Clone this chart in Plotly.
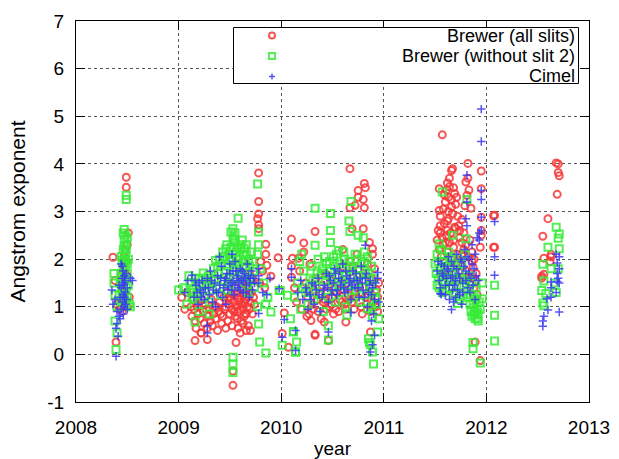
import plotly.graph_objects as go

# ---------------- data (decimal year, Angstrom exponent) ----------------
brewer_all = [
    # 2008
    (2008.49, 3.72), (2008.49, 3.51), (2008.36, 2.04), (2008.47, 1.95), (2008.46, 1.85),
    (2008.50, 2.30), (2008.51, 2.55), (2008.48, 1.70), (2008.44, 1.65), (2008.38, 1.55),
    (2008.40, 1.05), (2008.42, 0.95), (2008.39, 0.26), (2008.52, 1.20), (2008.45, 1.30),
    (2008.48, 2.20), (2008.47, 2.05), (2008.49, 1.95), (2008.46, 1.15), (2008.50, 1.00),
    (2008.45, 0.90),
    # 2009
    (2009.12, 1.00), (2009.13, 0.80), (2009.15, 0.95), (2009.16, 0.70), (2009.17, 0.55),
    (2009.19, 0.85), (2009.20, 1.10), (2009.21, 0.75), (2009.22, 0.45), (2009.24, 0.90),
    (2009.25, 0.65), (2009.26, 1.05), (2009.28, 0.55), (2009.29, 0.80), (2009.30, 0.95),
    (2009.31, 0.70), (2009.33, 0.60), (2009.34, 0.85), (2009.35, 1.00), (2009.36, 0.75),
    (2009.38, 0.50), (2009.39, 0.90), (2009.40, 1.10), (2009.42, 0.65), (2009.43, 0.80),
    (2009.44, 1.20), (2009.45, 0.95), (2009.46, 0.55), (2009.47, 1.30), (2009.48, 0.70),
    (2009.49, 1.05), (2009.50, 0.85), (2009.51, 1.15), (2009.52, 0.60), (2009.53, 1.25),
    (2009.54, 0.90), (2009.55, 1.40), (2009.56, 1.00), (2009.57, 0.75), (2009.58, 1.20),
    (2009.59, 1.10), (2009.60, 0.95), (2009.61, 1.35), (2009.62, 1.05), (2009.63, 1.25),
    (2009.64, 0.80), (2009.65, 1.15), (2009.66, 1.45), (2009.67, 1.00), (2009.68, 0.60),
    (2009.69, 1.30), (2009.70, 0.50), (2009.72, 1.60), (2009.73, 1.20),
    (2009.50, 1.20), (2009.52, 0.95), (2009.54, 1.10), (2009.55, 0.80), (2009.57, 1.30),
    (2009.58, 0.90), (2009.60, 1.15), (2009.61, 0.70), (2009.62, 1.40), (2009.63, 0.95),
    (2009.64, 1.10), (2009.65, 1.30), (2009.66, 0.85), (2009.67, 1.20), (2009.68, 1.40),
    (2009.69, 0.95), (2009.70, 1.10), (2009.71, 1.30), (2009.72, 0.85), (2009.74, 1.05),
    (2009.58, 0.55), (2009.60, 0.45), (2009.63, 0.65), (2009.66, 0.50), (2009.59, 1.50),
    (2009.64, 1.55), (2009.69, 1.70), (2009.14, 1.15), (2009.18, 1.00), (2009.23, 1.15),
    (2009.27, 0.95), (2009.32, 1.15), (2009.37, 1.00), (2009.41, 0.85), (2009.46, 1.00),
    (2009.48, 1.20),
    (2009.16, 0.29), (2009.28, 0.31), (2009.22, 0.45), (2009.56, 0.25), (2009.53, -0.65),
    (2009.53, -0.35), (2009.65, 0.86), (2009.78, 3.81), (2009.78, 3.21), (2009.78, 2.95),
    (2009.77, 2.85), (2009.78, 2.72), (2009.78, 2.64), (2009.85, 2.31), (2009.97, 2.03),
    (2009.85, 2.10), (2009.86, 1.87), (2009.90, 1.64), (2009.80, 1.95), (2009.82, 1.75),
    (2009.79, 1.50), (2009.84, 1.40), (2009.03, 1.20), (2009.06, 0.95), (2009.08, 1.30),
    # 2010
    (2010.10, 1.85), (2010.10, 1.62), (2010.11, 2.02), (2010.17, 2.02), (2010.22, 2.34),
    (2010.22, 2.15), (2010.10, 2.42), (2010.33, 2.58), (2010.69, 2.64), (2010.80, 2.64),
    (2010.89, 2.22), (2010.89, 2.10), (2010.67, 3.90), (2010.81, 3.59), (2010.82, 3.50),
    (2010.75, 3.44), (2010.75, 3.30), (2010.80, 3.25), (2010.67, 3.08), (2010.72, 3.13),
    (2010.81, 3.08), (2010.63, 0.68), (2010.46, 0.29), (2010.33, 0.42), (2010.29, 0.71),
    (2010.27, 0.85), (2010.42, 0.68), (2010.87, 0.47), (2010.94, 1.20), (2010.94, 0.90),
    (2010.01, 0.44), (2010.03, 0.87), (2010.07, 0.15), (2010.33, 0.40),
    (2010.13, 1.40), (2010.15, 1.10), (2010.18, 1.75), (2010.20, 0.95), (2010.24, 1.50),
    (2010.26, 1.20), (2010.28, 1.90), (2010.30, 1.05), (2010.32, 1.35), (2010.34, 1.60),
    (2010.36, 0.90), (2010.38, 1.25), (2010.40, 1.45), (2010.41, 1.10), (2010.43, 1.70),
    (2010.45, 1.30), (2010.47, 1.00), (2010.48, 1.55), (2010.50, 1.20), (2010.52, 1.40),
    (2010.53, 0.95), (2010.55, 1.65), (2010.57, 1.15), (2010.58, 1.35), (2010.60, 1.85),
    (2010.62, 1.05), (2010.64, 1.50), (2010.65, 1.25), (2010.67, 1.95), (2010.69, 1.10),
    (2010.70, 1.60), (2010.72, 1.30), (2010.74, 2.10), (2010.76, 1.45), (2010.78, 1.00),
    (2010.80, 1.70), (2010.82, 1.20), (2010.84, 1.90), (2010.86, 1.40), (2010.88, 1.60),
    (2010.90, 1.10), (2010.91, 1.80), (2010.93, 1.35), (2010.95, 1.50),
    (2010.42, 1.15), (2010.44, 0.95), (2010.49, 1.05), (2010.51, 0.85), (2010.54, 1.30),
    (2010.56, 0.90), (2010.59, 1.10), (2010.61, 1.35), (2010.63, 0.95), (2010.66, 1.15),
    (2010.71, 0.95), (2010.73, 1.20), (2010.77, 1.30), (2010.79, 0.85), (2010.83, 1.05),
    (2010.85, 1.25), (2010.87, 0.90), (2010.92, 1.00), (2010.25, 0.80), (2010.31, 0.95),
    (2010.35, 1.15), (2010.39, 0.75), (2010.60, 2.20), (2010.86, 2.35), (2010.70, 1.85),
    # 2011-2012
    (2011.57, 4.61), (2011.67, 3.90), (2011.66, 3.86), (2011.82, 4.01), (2011.95, 3.85),
    (2011.80, 3.62), (2011.54, 3.48), (2011.62, 3.60), (2011.61, 3.45), (2011.63, 3.30),
    (2011.68, 3.50), (2011.69, 3.38), (2011.64, 3.52), (2011.66, 3.25), (2011.95, 3.48),
    (2011.81, 3.34), (2011.54, 3.02), (2011.58, 3.05), (2011.63, 3.00), (2011.85, 3.07),
    (2011.79, 3.12), (2012.08, 2.92), (2011.95, 2.88), (2011.62, 2.80), (2011.62, 2.60),
    (2011.55, 2.70), (2011.55, 2.55), (2011.69, 2.67), (2011.73, 2.70), (2011.76, 2.83),
    (2011.95, 2.60), (2011.95, 2.50), (2012.08, 2.25), (2011.94, 2.25), (2011.87, 1.83),
    (2011.87, 1.62), (2011.89, 0.26), (2011.94, -0.13), (2011.59, 3.35), (2011.70, 3.15),
    (2011.60, 3.20), (2011.83, 3.45), (2011.82, 3.70),
    (2011.52, 2.40), (2011.54, 2.20), (2011.56, 2.05), (2011.58, 2.30), (2011.60, 1.95),
    (2011.62, 2.15), (2011.64, 2.35), (2011.66, 2.00), (2011.68, 2.25), (2011.70, 1.90),
    (2011.72, 2.10), (2011.74, 2.45), (2011.76, 1.85), (2011.78, 2.20), (2011.80, 1.75),
    (2011.82, 2.05), (2011.84, 1.60), (2011.86, 1.95), (2011.88, 1.40), (2011.90, 1.70),
    (2011.91, 1.25), (2011.58, 1.70), (2011.65, 1.80), (2011.72, 1.60),
    (2011.53, 2.60), (2011.55, 2.90), (2011.57, 2.45), (2011.59, 2.75), (2011.61, 2.50),
    (2011.63, 2.85), (2011.65, 2.55), (2011.67, 2.95), (2011.68, 2.40), (2011.70, 2.65),
    (2011.72, 2.90), (2011.74, 2.60), (2011.76, 2.35), (2011.78, 2.55), (2011.80, 2.30),
    (2011.84, 2.40), (2011.86, 2.15), (2011.88, 2.00), (2011.90, 1.55), (2011.66, 3.10),
    (2011.71, 3.30), (2011.64, 3.70), (2011.60, 2.35), (2011.76, 2.10),
    (2012.07, 2.91), (2012.07, 2.25),
    (2012.68, 4.02), (2012.70, 4.00), (2012.70, 3.82), (2012.71, 3.75), (2012.69, 3.36),
    (2012.60, 2.85), (2012.55, 2.48), (2012.56, 2.02), (2012.63, 2.10), (2012.63, 2.05),
    (2012.62, 1.95), (2012.54, 1.64), (2012.54, 1.60), (2012.56, 1.68),
]

brewer_no_slit2 = [
    # 2008
    (2008.49, 3.34), (2008.49, 3.25), (2008.47, 2.62), (2008.48, 2.50), (2008.47, 2.40),
    (2008.49, 2.30), (2008.46, 2.20), (2008.48, 2.10), (2008.45, 1.98), (2008.50, 1.90),
    (2008.46, 1.80), (2008.44, 1.70), (2008.48, 1.60), (2008.43, 1.50), (2008.51, 1.45),
    (2008.45, 1.35), (2008.42, 1.25), (2008.47, 1.15), (2008.52, 1.05), (2008.40, 1.00),
    (2008.37, 1.70), (2008.37, 1.50), (2008.38, 1.25), (2008.38, 0.70), (2008.40, 0.45),
    (2008.39, 0.10), (2008.51, 2.00), (2008.53, 1.00), (2008.44, 2.05), (2008.50, 2.45),
    (2008.46, 2.55), (2008.47, 2.28), (2008.48, 2.00), (2008.46, 1.62), (2008.49, 1.40),
    (2008.47, 1.25), (2008.49, 1.10), (2008.45, 1.45), (2008.48, 1.85), (2008.50, 1.70),
    (2008.50, 1.20), (2008.44, 1.10), (2008.47, 1.95), (2008.49, 2.20),
    # 2009
    (2009.12, 1.30), (2009.14, 1.39), (2009.15, 1.15), (2009.17, 1.50), (2009.18, 1.25),
    (2009.20, 1.60), (2009.22, 1.35), (2009.24, 1.71), (2009.25, 1.20), (2009.27, 1.45),
    (2009.29, 1.65), (2009.30, 1.10), (2009.32, 1.55), (2009.34, 1.80), (2009.36, 1.97),
    (2009.37, 1.40), (2009.39, 1.70), (2009.41, 1.25), (2009.42, 1.90), (2009.44, 1.55),
    (2009.45, 2.05), (2009.46, 2.22), (2009.47, 1.35), (2009.48, 1.85), (2009.49, 2.10),
    (2009.50, 1.60), (2009.51, 2.57), (2009.52, 1.95), (2009.53, 2.64), (2009.53, 2.45),
    (2009.54, 1.75), (2009.55, 2.55), (2009.55, 2.35), (2009.56, 2.15), (2009.57, 1.45),
    (2009.58, 2.86), (2009.58, 2.00), (2009.59, 1.80), (2009.60, 2.30), (2009.61, 2.22),
    (2009.62, 1.65), (2009.63, 1.95), (2009.64, 2.22), (2009.65, 1.50), (2009.66, 2.10),
    (2009.67, 1.70), (2009.68, 1.30), (2009.69, 1.85), (2009.70, 1.55), (2009.72, 1.95),
    (2009.74, 1.40),
    (2009.40, 2.00), (2009.43, 2.15), (2009.45, 1.75), (2009.47, 2.30), (2009.50, 2.00),
    (2009.51, 2.25), (2009.53, 2.10), (2009.54, 2.40), (2009.56, 1.90), (2009.57, 2.25),
    (2009.59, 2.05), (2009.60, 1.70), (2009.62, 2.40), (2009.63, 2.10), (2009.65, 1.85),
    (2009.66, 2.30), (2009.68, 2.00), (2009.69, 1.60), (2009.71, 2.15), (2009.73, 1.75),
    (2009.35, 1.60), (2009.38, 1.85), (2009.33, 1.35), (2009.28, 1.50), (2009.23, 1.45),
    (2009.19, 1.30), (2009.16, 1.60), (2009.13, 1.20), (2009.11, 1.50), (2009.26, 1.60),
    (2009.48, 1.50), (2009.55, 1.60),
    (2009.16, 0.68), (2009.78, 0.64), (2009.79, 0.26), (2009.85, 0.03), (2009.53, -0.06),
    (2009.53, -0.20), (2009.53, -0.38), (2009.90, 0.89), (2009.85, 1.05), (2009.77, 1.00),
    (2009.98, 1.34), (2009.77, 3.58), (2009.78, 2.57), (2009.78, 2.30), (2009.77, 2.10),
    (2009.80, 1.80), (2009.83, 1.50), (2009.87, 1.20), (2009.99, 1.34), (2010.06, 1.24),
    (2010.09, 0.75), (2010.12, 0.47), (2010.01, 0.19), (2010.14, 0.05), (2009.05, 1.40),
    (2009.08, 1.05), (2009.10, 1.65), (2009.20, 0.90), (2009.30, 0.85), (2009.00, 1.35),
    # 2010
    (2010.33, 3.07), (2010.48, 2.96), (2010.68, 3.21), (2010.66, 2.80), (2010.48, 2.60),
    (2010.67, 2.58), (2010.75, 2.50), (2010.80, 2.45), (2010.33, 2.29), (2010.48, 2.35),
    (2010.56, 2.18), (2010.81, 2.15), (2010.15, 0.26), (2010.14, 0.05), (2010.12, 0.48),
    (2010.46, 0.60), (2010.46, 0.30), (2010.64, 0.82), (2010.85, 0.33), (2010.86, 0.25),
    (2010.87, 0.20), (2010.89, 0.05), (2010.90, -0.20), (2010.94, 0.47), (2010.84, 0.96),
    (2010.88, 1.00), (2010.18, 1.95), (2010.20, 2.10),
    (2010.13, 1.20), (2010.16, 1.50), (2010.19, 0.95), (2010.22, 1.75), (2010.24, 1.30),
    (2010.26, 1.05), (2010.28, 1.60), (2010.30, 1.85), (2010.32, 1.15), (2010.34, 1.45),
    (2010.36, 2.00), (2010.37, 1.25), (2010.39, 1.70), (2010.41, 0.90), (2010.43, 1.55),
    (2010.44, 1.90), (2010.46, 1.20), (2010.48, 1.75), (2010.50, 1.40), (2010.51, 2.05),
    (2010.53, 1.10), (2010.55, 1.65), (2010.57, 1.90), (2010.58, 1.30), (2010.60, 1.55),
    (2010.62, 2.00), (2010.63, 1.00), (2010.65, 1.45), (2010.67, 1.85), (2010.68, 1.20),
    (2010.70, 1.65), (2010.72, 2.10), (2010.73, 1.35), (2010.75, 1.80), (2010.77, 1.10),
    (2010.79, 1.55), (2010.81, 1.95), (2010.83, 1.25), (2010.85, 1.70), (2010.87, 1.45),
    (2010.89, 0.80), (2010.91, 1.30), (2010.93, 1.05), (2010.95, 0.75),
    (2010.40, 1.80), (2010.42, 2.05), (2010.45, 1.65), (2010.47, 1.95), (2010.49, 1.60),
    (2010.52, 1.85), (2010.54, 2.10), (2010.56, 1.45), (2010.59, 1.80), (2010.61, 2.15),
    (2010.63, 1.65), (2010.66, 1.95), (2010.69, 1.75), (2010.71, 1.45), (2010.74, 2.00),
    (2010.76, 1.65), (2010.78, 1.90), (2010.80, 1.40), (2010.82, 1.75), (2010.84, 2.05),
    (2010.86, 1.55), (2010.88, 1.85), (2010.90, 1.60), (2010.92, 1.20), (2010.27, 1.35),
    (2010.31, 1.55), (2010.35, 1.75), (2010.21, 1.40),
    # 2011-2012
    (2011.57, 3.41), (2011.81, 3.25), (2011.80, 2.43), (2011.54, 2.32), (2011.67, 2.50),
    (2011.72, 1.07), (2011.88, 0.98), (2011.88, 0.85), (2011.89, 0.75), (2011.92, 0.70),
    (2011.96, 1.17), (2011.96, 1.50), (2011.87, 0.25), (2011.87, 0.12), (2011.94, -0.18),
    (2012.08, 1.45), (2012.08, 0.82), (2012.08, 0.28),
    (2011.50, 1.90), (2011.52, 2.10), (2011.53, 1.60), (2011.55, 1.80), (2011.56, 2.20),
    (2011.58, 1.50), (2011.60, 1.95), (2011.61, 1.70), (2011.63, 2.15), (2011.64, 1.40),
    (2011.66, 1.85), (2011.68, 1.25), (2011.69, 2.00), (2011.71, 1.55), (2011.73, 1.75),
    (2011.74, 1.15), (2011.76, 1.90), (2011.78, 1.45), (2011.79, 2.10), (2011.81, 1.35),
    (2011.83, 1.65), (2011.84, 1.05), (2011.86, 1.50), (2011.88, 1.20), (2011.90, 1.40),
    (2011.91, 0.95), (2011.93, 1.10), (2011.52, 1.45), (2011.57, 1.30), (2011.85, 0.90),
    (2011.51, 1.70), (2011.53, 1.95), (2011.54, 1.40), (2011.56, 1.65), (2011.57, 1.95),
    (2011.59, 1.75), (2011.60, 1.35), (2011.62, 1.85), (2011.63, 1.55), (2011.65, 2.05),
    (2011.66, 1.60), (2011.67, 1.40), (2011.69, 1.70), (2011.70, 1.30), (2011.72, 1.90),
    (2011.75, 1.60), (2011.77, 1.25), (2011.80, 1.55), (2011.82, 1.20), (2011.85, 1.25),
    (2011.87, 1.05), (2011.89, 0.90), (2011.90, 1.15), (2011.92, 0.85), (2011.94, 0.95),
    (2011.91, 0.75), (2011.86, 0.80),
    (2012.68, 2.67), (2012.71, 2.53), (2012.70, 2.44), (2012.60, 2.25), (2012.71, 2.22),
    (2012.55, 1.89), (2012.63, 1.80), (2012.70, 1.80), (2012.56, 1.54), (2012.67, 1.50),
    (2012.54, 1.34), (2012.58, 1.28), (2012.68, 1.30), (2012.55, 1.08), (2012.56, 1.02),
]

cimel = [
    # 2008
    (2008.39, -0.04), (2008.41, 0.38), (2008.39, 0.55), (2008.43, 0.75), (2008.46, 0.85),
    (2008.50, 0.95), (2008.53, 1.60), (2008.55, 1.55), (2008.35, 1.35), (2008.36, 1.05),
    (2008.44, 1.90), (2008.46, 1.75), (2008.45, 1.60), (2008.47, 1.50), (2008.44, 1.40),
    (2008.48, 1.30), (2008.43, 1.20), (2008.45, 1.10), (2008.47, 1.00), (2008.42, 1.45),
    (2008.49, 1.70), (2008.40, 0.90), (2008.38, 1.15), (2008.46, 1.25),
    (2008.47, 1.20), (2008.48, 1.55), (2008.46, 1.45), (2008.48, 1.05), (2008.50, 1.40),
    (2008.45, 1.85), (2008.47, 1.65), (2008.49, 1.15), (2008.44, 0.95), (2008.42, 0.80),
    (2008.40, 0.65),
    # 2009
    (2009.13, 1.66), (2009.15, 1.20), (2009.17, 1.45), (2009.19, 1.05), (2009.21, 1.35),
    (2009.23, 1.55), (2009.25, 1.15), (2009.26, 1.40), (2009.28, 1.60), (2009.30, 1.25),
    (2009.31, 1.75), (2009.33, 1.10), (2009.35, 1.50), (2009.37, 1.30), (2009.38, 1.65),
    (2009.40, 1.45), (2009.42, 1.85), (2009.43, 1.20), (2009.45, 1.55), (2009.47, 1.70),
    (2009.48, 1.35), (2009.50, 1.90), (2009.51, 1.50), (2009.53, 1.75), (2009.54, 1.25),
    (2009.55, 1.95), (2009.57, 1.60), (2009.58, 1.40), (2009.60, 1.80), (2009.61, 1.55),
    (2009.63, 1.30), (2009.64, 1.70), (2009.66, 1.45), (2009.67, 1.90), (2009.69, 1.20),
    (2009.70, 1.60), (2009.72, 1.35), (2009.74, 1.50), (2009.28, 0.60), (2009.28, 0.45),
    (2009.44, 1.40), (2009.46, 1.60), (2009.49, 1.45), (2009.50, 1.70), (2009.52, 1.35),
    (2009.53, 1.55), (2009.55, 1.45), (2009.56, 1.75), (2009.58, 1.65), (2009.59, 1.50),
    (2009.60, 1.35), (2009.62, 1.75), (2009.63, 1.55), (2009.65, 1.60), (2009.66, 1.30),
    (2009.68, 1.65), (2009.69, 1.50), (2009.71, 1.75), (2009.73, 1.60), (2009.39, 1.30),
    (2009.41, 1.60), (2009.34, 1.35), (2009.32, 1.55), (2009.29, 1.40), (2009.24, 1.30),
    (2009.20, 1.50), (2009.18, 1.30), (2009.16, 1.55), (2009.22, 1.20),
    (2009.78, 1.80), (2009.78, 1.65), (2009.78, 1.50), (2009.78, 0.86), (2009.82, 1.30),
    (2009.86, 1.25), (2009.89, 1.60), (2009.98, 1.38), (2010.01, 0.36), (2010.03, 0.73),
    (2009.06, 1.30), (2009.09, 1.55), (2009.40, 2.05), (2009.52, 2.10), (2009.36, 1.00),
    (2009.46, 1.05),
    # 2010
    (2010.82, 2.29), (2010.14, 0.50), (2010.14, 0.08), (2010.10, 1.80), (2010.10, 1.62),
    (2010.46, 0.47), (2010.68, 0.88), (2010.87, 0.05), (2010.88, 0.70), (2010.94, 1.72),
    (2010.94, 1.60), (2010.95, 1.10), (2010.16, 1.30), (2010.19, 1.55), (2010.21, 1.15),
    (2010.24, 1.40), (2010.26, 0.95), (2010.28, 1.25), (2010.30, 1.50), (2010.32, 1.05),
    (2010.34, 1.35), (2010.36, 1.60), (2010.38, 0.90), (2010.40, 1.20), (2010.42, 1.45),
    (2010.44, 1.70), (2010.46, 1.10), (2010.48, 1.55), (2010.50, 1.35), (2010.52, 1.80),
    (2010.54, 1.25), (2010.56, 1.60), (2010.58, 1.45), (2010.60, 1.90), (2010.62, 1.30),
    (2010.64, 1.65), (2010.66, 1.50), (2010.68, 1.15), (2010.70, 1.75), (2010.72, 1.40),
    (2010.74, 1.55), (2010.76, 1.20), (2010.78, 1.85), (2010.80, 1.35), (2010.82, 1.60),
    (2010.84, 1.00), (2010.86, 1.45), (2010.88, 1.25), (2010.90, 0.85), (2010.92, 1.50),
    (2010.91, 0.40), (2010.89, 0.20),
    (2010.45, 1.40), (2010.47, 1.65), (2010.49, 1.25), (2010.51, 1.50), (2010.53, 1.70),
    (2010.55, 1.35), (2010.57, 1.75), (2010.59, 1.55), (2010.61, 1.40), (2010.63, 1.75),
    (2010.65, 1.35), (2010.67, 1.60), (2010.69, 1.45), (2010.71, 1.55), (2010.73, 1.70),
    (2010.75, 1.40), (2010.77, 1.60), (2010.79, 1.50), (2010.81, 1.20), (2010.83, 1.70),
    (2010.85, 1.30), (2010.87, 1.55), (2010.89, 1.40), (2010.91, 1.15), (2010.33, 1.45),
    (2010.37, 1.25), (2010.41, 1.35), (2010.29, 1.15), (2010.25, 1.30),
    # 2011-2012
    (2011.95, 5.15), (2011.95, 4.47), (2011.81, 3.76), (2011.95, 3.44), (2011.95, 3.25),
    (2011.81, 3.20), (2011.80, 2.85), (2011.81, 2.70), (2011.95, 2.88), (2011.95, 2.60),
    (2011.93, 2.55), (2011.93, 2.40), (2012.08, 2.79), (2012.08, 2.05), (2012.08, 1.66),
    (2011.66, 0.94), (2011.55, 1.28), (2011.56, 1.26),
    (2011.52, 1.75), (2011.54, 1.55), (2011.56, 1.90), (2011.58, 1.65), (2011.60, 1.45),
    (2011.62, 1.80), (2011.63, 2.05), (2011.65, 1.60), (2011.67, 1.35), (2011.68, 1.85),
    (2011.70, 1.55), (2011.71, 2.10), (2011.73, 1.70), (2011.74, 1.25), (2011.76, 1.95),
    (2011.77, 1.50), (2011.79, 2.20), (2011.80, 1.75), (2011.82, 1.40), (2011.83, 2.00),
    (2011.85, 1.60), (2011.86, 2.30), (2011.88, 1.80), (2011.89, 1.15), (2011.91, 2.45),
    (2011.92, 1.55), (2011.70, 1.20), (2011.64, 1.15), (2011.76, 1.05),
    (2011.57, 1.70), (2011.59, 1.85), (2011.61, 1.60), (2011.63, 1.75), (2011.64, 1.45),
    (2011.66, 1.95), (2011.67, 1.65), (2011.69, 1.45), (2011.71, 1.80), (2011.72, 1.35),
    (2011.74, 1.60), (2011.75, 2.00), (2011.77, 1.30), (2011.78, 1.85), (2011.80, 1.55),
    (2011.81, 2.05), (2011.83, 1.70), (2011.84, 1.30), (2011.86, 1.90), (2011.87, 1.45),
    (2011.89, 2.10), (2011.90, 1.65), (2011.55, 1.40), (2011.53, 1.95), (2011.60, 1.25),
    (2011.68, 1.10),
    (2012.69, 1.92), (2012.68, 2.10), (2012.71, 2.05), (2012.71, 1.80), (2012.69, 1.70),
    (2012.70, 1.60), (2012.69, 1.53), (2012.71, 1.50), (2012.63, 1.52), (2012.63, 1.40),
    (2012.59, 1.17), (2012.63, 1.20), (2012.68, 1.30), (2012.60, 0.93), (2012.71, 0.89),
    (2012.56, 0.80), (2012.55, 0.70), (2012.55, 0.59),
]

series_names = ["Brewer (all slits)", "Brewer (without slit 2)", "Cimel"]
x_ticks = [2008, 2009, 2010, 2011, 2012, 2013]
y_ticks = [-1, 0, 1, 2, 3, 4, 5, 6, 7]

RED = "rgba(245,55,55,0.85)"
GREEN = "rgba(55,235,55,0.85)"
BLUE = "rgba(55,55,245,0.85)"
FONT = "Liberation Sans, Arial, Helvetica, sans-serif"

fig = go.Figure()
styles = [
    dict(symbol="circle-open", size=7, color=RED, line=dict(width=2, color=RED)),
    dict(symbol="square-open", size=7, color=GREEN, line=dict(width=2, color=GREEN)),
    dict(symbol="cross-thin-open", size=6, color=BLUE, line=dict(width=1.5, color=BLUE)),
]
for name, data, st in zip(series_names, [brewer_all, brewer_no_slit2, cimel], styles):
    fig.add_trace(go.Scatter(
        x=[p[0] for p in data], y=[p[1] for p in data], mode="markers",
        name=name, marker=st, showlegend=False, cliponaxis=True))

axis_common = dict(
    showline=True, linecolor="black", linewidth=1, mirror="ticks",
    ticks="inside", ticklen=9, tickwidth=1, tickcolor="black",
    showgrid=True, gridcolor="#555555", griddash="dot", gridwidth=1,
    zeroline=False, automargin=False,
    tickfont=dict(family=FONT, size=19, color="black"),
)
fig.update_xaxes(range=[2008, 2013], tickvals=x_ticks, ticktext=[str(v) for v in x_ticks],
                 ticklabelstandoff=8,
                 title=dict(text="year", font=dict(family=FONT, size=19, color="black"), standoff=5),
                 **axis_common)
fig.update_yaxes(range=[-1, 7], tickvals=y_ticks, ticktext=[str(v) for v in y_ticks],
                 ticklabelstandoff=7,
                 title=dict(text="Angstrom exponent", font=dict(family=FONT, size=21, color="black"), standoff=15),
                 **axis_common)

# ---- gnuplot style key (right-aligned text, sample on the left) ----
W, H = 619, 459
L, R, T, B = 76, 30, 21, 57
pw, ph = W - L - R, H - T - B
def px(xp): return (xp - L) / pw
def py(yp): return (H - B - yp) / ph

shapes = [dict(type="rect", xref="paper", yref="paper", x0=px(233.5), x1=px(578.5),
               y0=py(83.5), y1=py(27.5), line=dict(color="black", width=1),
               fillcolor="white", layer="above")]
rows = [35.5, 56, 76.5]
sx = px(272)
annotations = []
for name, yr in zip(series_names, rows):
    annotations.append(dict(text=name, xref="paper", yref="paper", x=px(577), y=py(yr),
                            xanchor="right", yanchor="middle", showarrow=False,
                            font=dict(family=FONT, size=18, color="black")))
shapes.append(dict(type="circle", xref="paper", yref="paper", xsizemode="pixel", ysizemode="pixel",
                   xanchor=sx, yanchor=py(rows[0]), x0=-3, x1=3, y0=-3, y1=3,
                   line=dict(color=RED, width=2), layer="above"))
shapes.append(dict(type="rect", xref="paper", yref="paper", xsizemode="pixel", ysizemode="pixel",
                   xanchor=sx, yanchor=py(rows[1]), x0=-3, x1=3, y0=-3, y1=3,
                   line=dict(color=GREEN, width=2), layer="above"))
shapes.append(dict(type="path", xref="paper", yref="paper", xsizemode="pixel", ysizemode="pixel",
                   xanchor=sx, yanchor=py(rows[2]), path="M-3,0 L3,0 M0,-3 L0,3",
                   line=dict(color=BLUE, width=1.5), layer="above"))

fig.update_layout(
    width=W, height=H, autosize=False,
    margin=dict(l=L, r=R, t=T, b=B, pad=0),
    paper_bgcolor="white", plot_bgcolor="white",
    font=dict(family=FONT, size=19, color="black"),
    shapes=shapes, annotations=annotations, showlegend=False,
)

fig.write_html("out.html")
